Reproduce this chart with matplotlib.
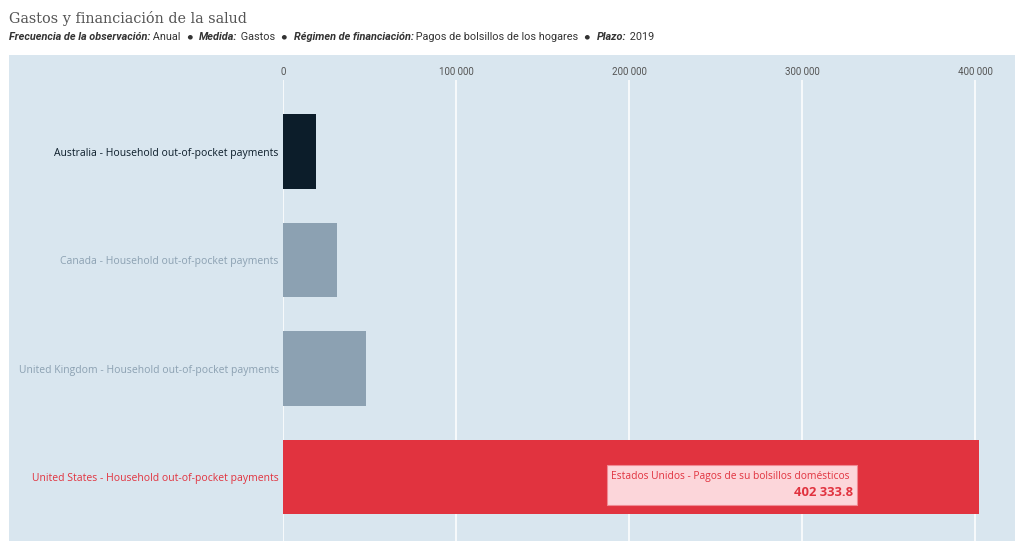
import matplotlib.pyplot as plt
from matplotlib.patches import Rectangle
from matplotlib.ticker import FuncFormatter

# Household out-of-pocket health spending, 2019
countries = ["Australia", "Canada", "United Kingdom", "United States"]
values = [19300, 31300, 48100, 402333.8]
bar_colors = ["#0c1d2a", "#8ca1b2", "#8ca1b2", "#e1333f"]
label_colors = ["#0c1d2a", "#8ca1b2", "#8ca1b2", "#e1333f"]
xticks = [0, 100000, 200000, 300000, 400000]

W, H = 1015, 541
fig = plt.figure(figsize=(W / 100, H / 100), dpi=100)
fig.patch.set_facecolor("white")

def px(x, y):
    return x / W, 1 - y / H

# light blue panel behind the chart
fig.patches.append(Rectangle(px(9, 541), (W - 9) / W, (541 - 55) / H,
                             transform=fig.transFigure, facecolor="#d9e6ef",
                             edgecolor="none", zorder=-10))

# title and subtitle
fig.text(*px(9, 19), "Gastos y financiación de la salud", fontsize=10.4,
         family="DejaVu Serif", color="#555555", va="center")

parts = [
    ("Frecuencia de la observación:", True), (" Anual", False), ("    ●    ", None),
    ("Medida:", True), (" Gastos", False), ("    ●    ", None),
    ("Régimen de financiación:", True), (" Pagos de bolsillos de los hogares", False),
    ("    ●    ", None), ("Plazo:", True), (" 2019", False),
]
renderer = fig.canvas.get_renderer()
x0 = 9
for txt, key in parts:
    kw = dict(fontsize=7.8, color="#333333", va="center", family=["Roboto", "DejaVu Sans"])
    if key:
        kw.update(style="italic", weight="bold")
    elif key is None:
        kw.update(fontsize=4.6)
    t = fig.text(*px(x0, 37), txt, **kw)
    x0 += t.get_window_extent(renderer).width

# plot area
left, right, top, bottom = 283, 1012, 80, 541
ax = fig.add_axes([left / W, 1 - bottom / H, (right - left) / W, (bottom - top) / H])
ax.set_facecolor("none")
ypos = list(range(len(countries)))
ax.barh(ypos, values, height=0.69, color=bar_colors, zorder=3)
ax.set_xlim(0, (right - left) / 173 * 100000)
ax.set_ylim(3.59, -0.66)

ax.set_xticks(xticks)
ax.xaxis.set_major_formatter(FuncFormatter(lambda v, p: f"{v:,.0f}".replace(",", " ")))
ax.xaxis.tick_top()
ax.tick_params(axis="x", length=0, pad=2.5, labelsize=7, labelcolor="#555555")
for lab in ax.get_xticklabels():
    lab.set_family("Roboto")
ax.grid(axis="x", color="white", linewidth=1.1, zorder=1)

ax.set_yticks(ypos)
ax.set_yticklabels([f"{c} - Household out-of-pocket payments" for c in countries],
                   fontsize=7.45, family="Open Sans")
for lab, c in zip(ax.get_yticklabels(), label_colors):
    lab.set_color(c)
ax.tick_params(axis="y", length=0, pad=3)
for s in ax.spines.values():
    s.set_visible(False)

# tooltip on the United States bar
us = values[3]
fig.patches.append(Rectangle(px(607, 505), 250 / W, 40 / H, transform=fig.transFigure,
                             facecolor="#fcd6da", edgecolor="#f08a93", linewidth=0.8,
                             zorder=5))
fig.text(*px(611, 476), "Estados Unidos - Pagos de su bolsillos domésticos",
         fontsize=7.4, family="Open Sans", color="#e1333f", va="center", zorder=6)
fig.text(*px(853, 493), f"{us:,.1f}".replace(",", " "), fontsize=9.4,
         family="Open Sans", weight="bold", color="#e1333f", va="center", ha="right",
         zorder=6)

fig.savefig("out.png", dpi=100)
